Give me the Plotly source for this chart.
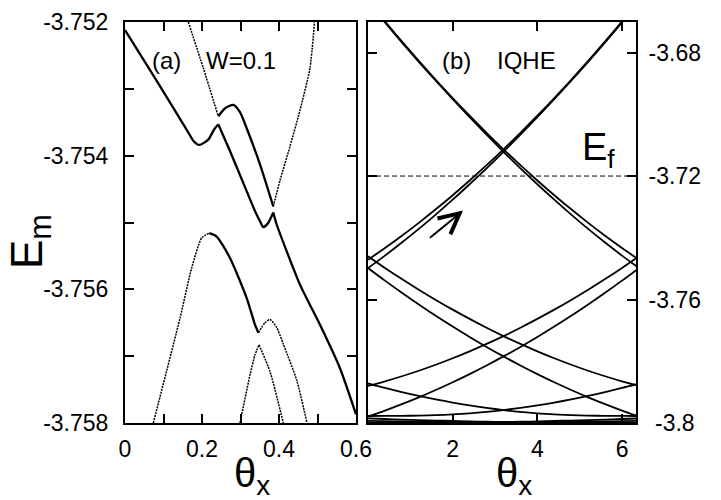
import plotly.graph_objects as go

# ---------------- panel (a): W = 0.1 ----------------
A_XTICKS = [0.0, 0.2, 0.4, 0.6]
A_XTEXT = ["0", "0.2", "0.4", "0.6"]
A_XMINOR = [0.1, 0.3, 0.5]
A_YTICKS = [-3.758, -3.756, -3.754, -3.752]
A_YTEXT = ["-3.758", "-3.756", "-3.754", "-3.752"]
A_YMINOR = [-3.757, -3.755, -3.753]

# band A (lower branch of the upper pair)
A1_T = [0.0, 0.08, 0.16, 0.178, 0.193, 0.2164, 0.2312, 0.2423]
A1_E = [-3.75212, -3.75286, -3.75361, -3.75378, -3.75384, -3.75376, -3.75361, -3.75353]
A2_T = [0.2423, 0.2727, 0.3117, 0.3377, 0.3506, 0.3592, 0.3714, 0.3852]
A2_E = [-3.75353, -3.75393, -3.75447, -3.75483, -3.75498, -3.75507, -3.75501, -3.75485]
A3_T = [0.3852, 0.394, 0.4545, 0.5065, 0.5584, 0.6]
A3_E = [-3.75485, -3.75503, -3.75593, -3.75653, -3.75718, -3.75787]
# band B (upper branch)
B1_T = [0.1644, 0.2034, 0.2423]
B1_E = [-3.752, -3.75269, -3.75341]
B2_T = [0.2423, 0.26, 0.2813, 0.2987, 0.3161, 0.3506, 0.3852]
B2_E = [-3.75341, -3.75329, -3.75324, -3.75335, -3.75359, -3.75413, -3.75476]
B3_T = [0.3852, 0.4026, 0.4286, 0.4545, 0.4805, 0.4922]
B3_E = [-3.75476, -3.75437, -3.75386, -3.75332, -3.75269, -3.752]
# band C (inverted parabola)
C1_T = [0.0735, 0.1429, 0.1732, 0.1992, 0.219]
C1_E = [-3.758, -3.75643, -3.75568, -3.75523, -3.75516]
C2_T = [0.219, 0.2381, 0.2727, 0.3161, 0.3377, 0.3463]
C2_E = [-3.75516, -3.75521, -3.75553, -3.75613, -3.75653, -3.75665]
C3_T = [0.3463, 0.3636, 0.3766, 0.394, 0.4112, 0.446, 0.4727]
C3_E = [-3.75665, -3.7565, -3.75645, -3.75657, -3.75682, -3.75736, -3.758]
# band D
D1_T = [0.2987, 0.3247, 0.3377, 0.348]
D1_E = [-3.758, -3.75728, -3.75698, -3.75683]
D2_T = [0.348, 0.3766, 0.4112]
D2_E = [-3.75683, -3.75723, -3.758]

# ---------------- panel (b): IQHE ----------------
B_XTICKS = [2, 4, 6]
B_XTEXT = ["2", "4", "6"]
B_YTICKS = [-3.8, -3.76, -3.72, -3.68]
B_YTEXT = ["\u00a0-3.8", "-3.76", "-3.72", "-3.68"]
EF_LEVEL = -3.72

THETA_B = [0.0, 0.4, 0.8, 1.2, 1.6, 2.0, 2.4, 2.8, 3.2, 3.6, 4.0, 4.4, 4.8, 5.2, 5.6, 6.0, 6.4]
U1 = [-3.66321, -3.66990, -3.67640, -3.68271, -3.68882, -3.69474, -3.70047, -3.70600, -3.71134,
      -3.71649, -3.72145, -3.72621, -3.73078, -3.73516, -3.73934, -3.74333, -3.74712]
U2 = [-3.66351, -3.67020, -3.67670, -3.68301, -3.68912, -3.69509, -3.70092, -3.70660, -3.71214,
      -3.71749, -3.72265, -3.72766, -3.73248, -3.73711, -3.74154, -3.74578, -3.74982]
U3 = [-3.74712, -3.74333, -3.73934, -3.73516, -3.73078, -3.72621, -3.72145, -3.71649, -3.71134,
      -3.70600, -3.70047, -3.69474, -3.68882, -3.68271, -3.67640, -3.66990, -3.66321]
U4 = [-3.74982, -3.74578, -3.74154, -3.73711, -3.73248, -3.72766, -3.72265, -3.71749, -3.71214,
      -3.70660, -3.70092, -3.69509, -3.68912, -3.68301, -3.67670, -3.67020, -3.66351]
L1 = [-3.74600, -3.74976, -3.75337, -3.75682, -3.76013, -3.76328, -3.76628, -3.76914, -3.77184,
      -3.77439, -3.77679, -3.77903, -3.78113, -3.78307, -3.78486, -3.78651, -3.78800]
L2 = [-3.74980, -3.75388, -3.75781, -3.76161, -3.76526, -3.76876, -3.77213, -3.77535, -3.77843,
      -3.78136, -3.78416, -3.78681, -3.78932, -3.79168, -3.79390, -3.79598, -3.79792]
L3 = [-3.78800, -3.78651, -3.78486, -3.78307, -3.78113, -3.77903, -3.77679, -3.77439, -3.77184,
      -3.76914, -3.76628, -3.76328, -3.76013, -3.75682, -3.75337, -3.74976, -3.74600]
L4 = [-3.79792, -3.79598, -3.79390, -3.79168, -3.78932, -3.78681, -3.78416, -3.78136, -3.77843,
      -3.77535, -3.77213, -3.76876, -3.76526, -3.76161, -3.75781, -3.75388, -3.74980]
BB1 = [-3.78720, -3.78866, -3.79001, -3.79125, -3.79238, -3.79340, -3.79431, -3.79511, -3.79580,
       -3.79638, -3.79685, -3.79720, -3.79745, -3.79760, -3.79768, -3.79772, -3.79774]
BB2 = [-3.79774, -3.79772, -3.79768, -3.79760, -3.79745, -3.79720, -3.79685, -3.79638, -3.79580,
       -3.79511, -3.79431, -3.79340, -3.79238, -3.79125, -3.79001, -3.78866, -3.78720]
F1 = [-3.79850, -3.79870, -3.79890, -3.79905, -3.79920, -3.79935, -3.79948, -3.79958, -3.79966,
      -3.79974, -3.79980, -3.79985, -3.79990, -3.79993, -3.79996, -3.79998, -3.80000]
F2 = [-3.80000, -3.79998, -3.79996, -3.79993, -3.79990, -3.79985, -3.79980, -3.79974, -3.79966,
      -3.79958, -3.79948, -3.79935, -3.79920, -3.79905, -3.79890, -3.79870, -3.79850]
F3 = [-3.79930, -3.79940, -3.79950, -3.79958, -3.79965, -3.79972, -3.79978, -3.79983, -3.79987,
      -3.79990, -3.79993, -3.79995, -3.79997, -3.79998, -3.79999, -3.80000, -3.80000]
F4 = [-3.80000, -3.80000, -3.79999, -3.79998, -3.79997, -3.79995, -3.79993, -3.79990, -3.79987,
      -3.79983, -3.79978, -3.79972, -3.79965, -3.79958, -3.79950, -3.79940, -3.79930]

# arrow in panel (b): tail and head in data units
ARROW_TAIL = (1.43, -3.7404)
ARROW_HEAD = (2.245, -3.7312)

# ---------------- figure ----------------
W, H = 721, 500
FONT = "Liberation Sans, Arial, sans-serif"

fig = go.Figure()

solid = dict(color="black", width=2.3, shape="spline", smoothing=0.6)
fine = dict(color="black", width=1.5, shape="spline", smoothing=0.6, dash="2px,1px")

for t, e, st in [
    (A1_T, A1_E, solid), (A2_T, A2_E, solid), (A3_T, A3_E, solid),
    (B1_T, B1_E, fine), (B2_T, B2_E, solid), (B3_T, B3_E, fine),
    (C1_T, C1_E, fine), (C2_T, C2_E, solid), (C3_T, C3_E, fine),
    (D1_T, D1_E, fine), (D2_T, D2_E, fine),
]:
    fig.add_trace(go.Scatter(x=t, y=e, mode="lines", line=st, xaxis="x", yaxis="y",
                             showlegend=False, hoverinfo="skip"))

for e in [U1, U2, U3, U4, L1, L2, L3, L4, BB1, BB2, F1, F2, F3, F4]:
    fig.add_trace(go.Scatter(x=THETA_B, y=e, mode="lines",
                             line=dict(color="black", width=1.8, shape="spline"),
                             xaxis="x2", yaxis="y2", showlegend=False, hoverinfo="skip"))

tickfont = dict(family=FONT, size=23, color="black")
common = dict(showline=True, linewidth=2, linecolor="black", mirror="ticks",
              ticks="inside", ticklen=9, tickwidth=1.5, tickcolor="black",
              showgrid=False, zeroline=False, tickfont=tickfont, tickmode="array",
              automargin=False)


def minor(vals):
    return dict(tickmode="array", tickvals=vals, ticks="inside", ticklen=9,
                tickwidth=1.5, tickcolor="black", showgrid=False)


ydom = [1 - 423 / H, 1 - 22 / H]
fig.update_layout(
    width=W, height=H,
    margin=dict(l=0, r=0, t=0, b=0, pad=0, autoexpand=False),
    paper_bgcolor="white", plot_bgcolor="white",
    xaxis=dict(domain=[125 / W, 356 / W], range=[0, 0.6], tickvals=A_XTICKS, ticktext=A_XTEXT,
               minor=minor(A_XMINOR), anchor="y", ticklabelstandoff=4, **common),
    yaxis=dict(domain=ydom, range=[-3.758, -3.752], tickvals=A_YTICKS, ticktext=A_YTEXT,
               minor=minor(A_YMINOR), anchor="x", ticklabelstandoff=10, **common),
    xaxis2=dict(domain=[368 / W, 636 / W], range=[0, 6.33], tickvals=B_XTICKS, ticktext=B_XTEXT,
                anchor="y2", ticklabelstandoff=4, **common),
    yaxis2=dict(domain=ydom, range=[-3.8, -3.6701], tickvals=B_YTICKS, ticktext=B_YTEXT,
                anchor="x2", side="right", ticklabelstandoff=6, **common),
)

fig.add_shape(type="line", xref="x2 domain", yref="y2", x0=0, x1=1, y0=EF_LEVEL, y1=EF_LEVEL,
              line=dict(color="black", width=1, dash="5px,3px"))


def ann(text, px, py, size, xanchor="center", angle=0):
    fig.add_annotation(text=text, x=px / W, y=1 - py / H, xref="paper", yref="paper",
                       showarrow=False, xanchor=xanchor, yanchor="middle", textangle=angle,
                       font=dict(family=FONT, size=size, color="black"))


ann("(a)", 150, 60, 24, xanchor="left")
ann("W=0.1", 204, 60, 24, xanchor="left")
ann("(b)", 440, 60, 24, xanchor="left")
ann("IQHE", 495, 60, 24, xanchor="left")
ann("E<sub>f</sub>", 598, 150, 38)
ann("E<sub>m</sub>", 30, 242, 44, angle=-90)
ann("\u03b8<sub>x</sub>", 252, 476, 40)
ann("\u03b8<sub>x</sub>", 514, 476, 40)

fig.add_annotation(x=ARROW_HEAD[0], y=ARROW_HEAD[1], ax=ARROW_TAIL[0], ay=ARROW_TAIL[1],
                   xref="x2", yref="y2", axref="x2", ayref="y2", text="", showarrow=True,
                   arrowhead=5, arrowsize=2, arrowwidth=2, arrowcolor="black", standoff=0)

fig.write_html("out.html", config={"displayModeBar": False},
               post_script="document.body.style.margin='0';document.body.style.overflow='hidden';")
